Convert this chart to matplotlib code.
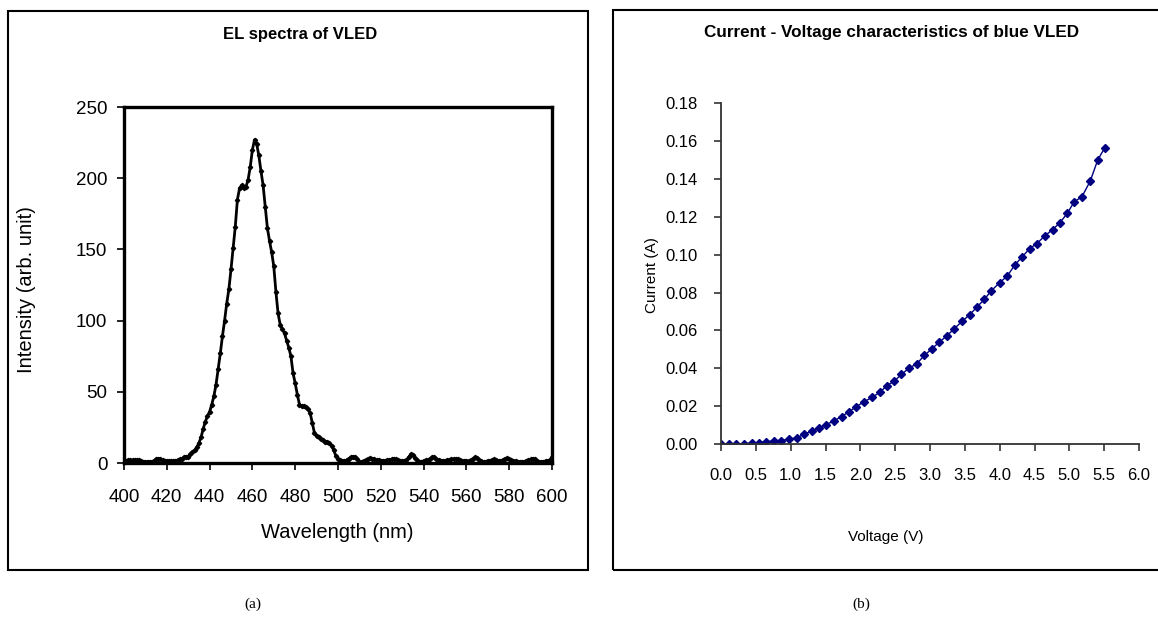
import numpy as np
import matplotlib.pyplot as plt
from matplotlib.patches import Rectangle

plt.rcParams['font.family'] = ['Liberation Sans', 'DejaVu Sans']

# EL spectrum (a)
wavelength = np.arange(400, 601)
intensity = [
    1, 1.5, 2, 2, 2, 2, 2, 2, 1.5, 1, 1, 1, 1, 1, 1.5, 2.5, 3, 3, 2, 1.5,
    1.5, 1.5, 1.5, 1.5, 1.5, 2, 2.5, 3, 4, 4.5, 4.5, 6, 7.5, 9, 11, 14, 18, 24, 29, 33,
    36, 41, 47, 55, 66, 77, 89, 100, 112, 122, 136, 151, 166, 185, 193, 195, 193, 194, 199, 208,
    220, 227, 224, 216, 205, 195, 180, 165, 156, 148, 138, 120, 105, 97, 94, 91, 86, 81, 75, 63,
    56, 48, 41, 40, 40, 39, 38, 35, 28, 21, 19, 18, 17, 16, 15, 15, 14, 12, 9, 5,
    3, 2, 1.5, 1.5, 2, 3, 4, 4.5, 4, 2.5, 1, 1, 1.5, 2, 3, 3.5, 3, 2.5, 2, 2,
    1.5, 1.5, 1.5, 2, 2, 2.5, 3, 2.5, 2, 1.5, 1.5, 1.5, 2, 4, 6, 5.5, 3.5, 2, 1, 1,
    1.5, 2, 2, 3, 4, 4, 3, 2, 1.5, 1.5, 1.5, 2, 2, 2.5, 3, 3, 2.5, 2, 1.5, 1.5,
    1.5, 1.5, 2, 3, 4, 3.5, 2, 1.5, 1, 1, 1.5, 1.5, 2, 2.5, 2, 1.5, 1.5, 2, 3, 3.5,
    3, 2, 1.5, 1.5, 1, 1, 1, 1, 1.5, 2, 2.5, 3, 2.5, 1.5, 1, 1, 1, 1.5, 1.5, 2, 4,
]

# I-V characteristic (b)
voltage = [0.00, 0.11, 0.22, 0.33, 0.44, 0.55, 0.65, 0.76, 0.86, 0.98,
           1.09, 1.19, 1.30, 1.40, 1.51, 1.62, 1.73, 1.84, 1.94, 2.05,
           2.17, 2.28, 2.38, 2.49, 2.59, 2.70, 2.81, 2.92, 3.03, 3.13,
           3.24, 3.34, 3.46, 3.57, 3.68, 3.78, 3.88, 4.00, 4.11, 4.22,
           4.32, 4.43, 4.53, 4.65, 4.76, 4.86, 4.97, 5.07, 5.18, 5.30,
           5.41, 5.51]
current = [0.0000, 0.0000, 0.0000, 0.0000, 0.0007, 0.0007, 0.0011, 0.0018, 0.0018, 0.0026,
           0.0033, 0.0051, 0.0069, 0.0086, 0.0102, 0.0122, 0.0145, 0.0171, 0.0197, 0.0222,
           0.0247, 0.0273, 0.0308, 0.0333, 0.0368, 0.0401, 0.0424, 0.0468, 0.0504, 0.0537,
           0.0571, 0.0606, 0.0648, 0.0683, 0.0726, 0.0764, 0.0810, 0.0852, 0.0888, 0.0947,
           0.0988, 0.1032, 0.1058, 0.1100, 0.1133, 0.1167, 0.1218, 0.1280, 0.1306, 0.1389,
           0.1503, 0.1565]

W, H = 1158, 621
fig = plt.figure(figsize=(W / 100, H / 100), dpi=100)

def fx(px):
    return px / W

def fy(py):
    return 1 - py / H

# panel frames
fig.patches.append(Rectangle((fx(8), fy(570)), fx(580), (570 - 11) / H, transform=fig.transFigure,
                             fill=False, edgecolor='black', linewidth=1.5))
fig.patches.append(Rectangle((fx(613), fy(570)), fx(560), (570 - 10) / H, transform=fig.transFigure,
                             fill=False, edgecolor='black', linewidth=1.5))

# ---- (a) EL spectra ----
ax1 = fig.add_axes([fx(124), fy(463), fx(428), 356 / H])
ax1.plot(wavelength, intensity, color='black', lw=2.0, marker='D', ms=2.2)
ax1.set_xlim(400, 600)
ax1.set_ylim(0, 250)
ax1.set_xticks(np.arange(400, 601, 20))
ax1.set_yticks(np.arange(0, 251, 50))
for s in ax1.spines.values():
    s.set_linewidth(2.4)
ax1.tick_params(direction='out', length=5, width=1.2, labelsize=13.5)
ax1.tick_params(axis='x', pad=14)
ax1.tick_params(axis='y', pad=7)

fig.text(fx(300), fy(34), 'EL spectra of VLED', ha='center', va='center',
         fontsize=12, fontweight='bold')
fig.text(fx(337), fy(532), 'Wavelength (nm)', ha='center', va='center', fontsize=14.5)
fig.text(fx(27), fy(290), 'Intensity (arb. unit)', ha='center', va='center',
         fontsize=14.5, rotation=90)

# ---- (b) I-V ----
ax2 = fig.add_axes([fx(721), fy(444), fx(418), 340.7 / H])
ax2.plot(voltage, current, color='#000080', lw=1.0, marker='D', ms=4.5)
ax2.set_xlim(0, 6)
ax2.set_ylim(0, 0.18)
ax2.set_xticks(np.arange(0, 6.01, 0.5))
ax2.set_yticks(np.arange(0, 0.181, 0.02))
ax2.xaxis.set_major_formatter(plt.FormatStrFormatter('%.1f'))
ax2.yaxis.set_major_formatter(plt.FormatStrFormatter('%.2f'))
ax2.spines['top'].set_visible(False)
ax2.spines['right'].set_visible(False)
for s in ('left', 'bottom'):
    ax2.spines[s].set_linewidth(1.3)
    ax2.spines[s].set_color('#333333')
ax2.tick_params(direction='out', length=5, width=1.2, color='#333333', labelsize=12)
ax2.tick_params(axis='x', pad=12)
ax2.tick_params(axis='y', pad=12)

fig.text(fx(892), fy(33), 'Current - Voltage characteristics of blue VLED', ha='center',
         va='center', fontsize=12.3, fontweight='bold')
fig.text(fx(886), fy(537), 'Voltage (V)', ha='center', va='center', fontsize=11)
fig.text(fx(652), fy(275), 'Current (A)', ha='center', va='center', fontsize=11, rotation=90)

# captions
fig.text(fx(253), fy(604), '(a)', ha='center', va='center', fontsize=11,
         family=['Liberation Serif', 'DejaVu Serif'])
fig.text(fx(861), fy(604), '(b)', ha='center', va='center', fontsize=11,
         family=['Liberation Serif', 'DejaVu Serif'])

fig.savefig('out.png', dpi=100)
